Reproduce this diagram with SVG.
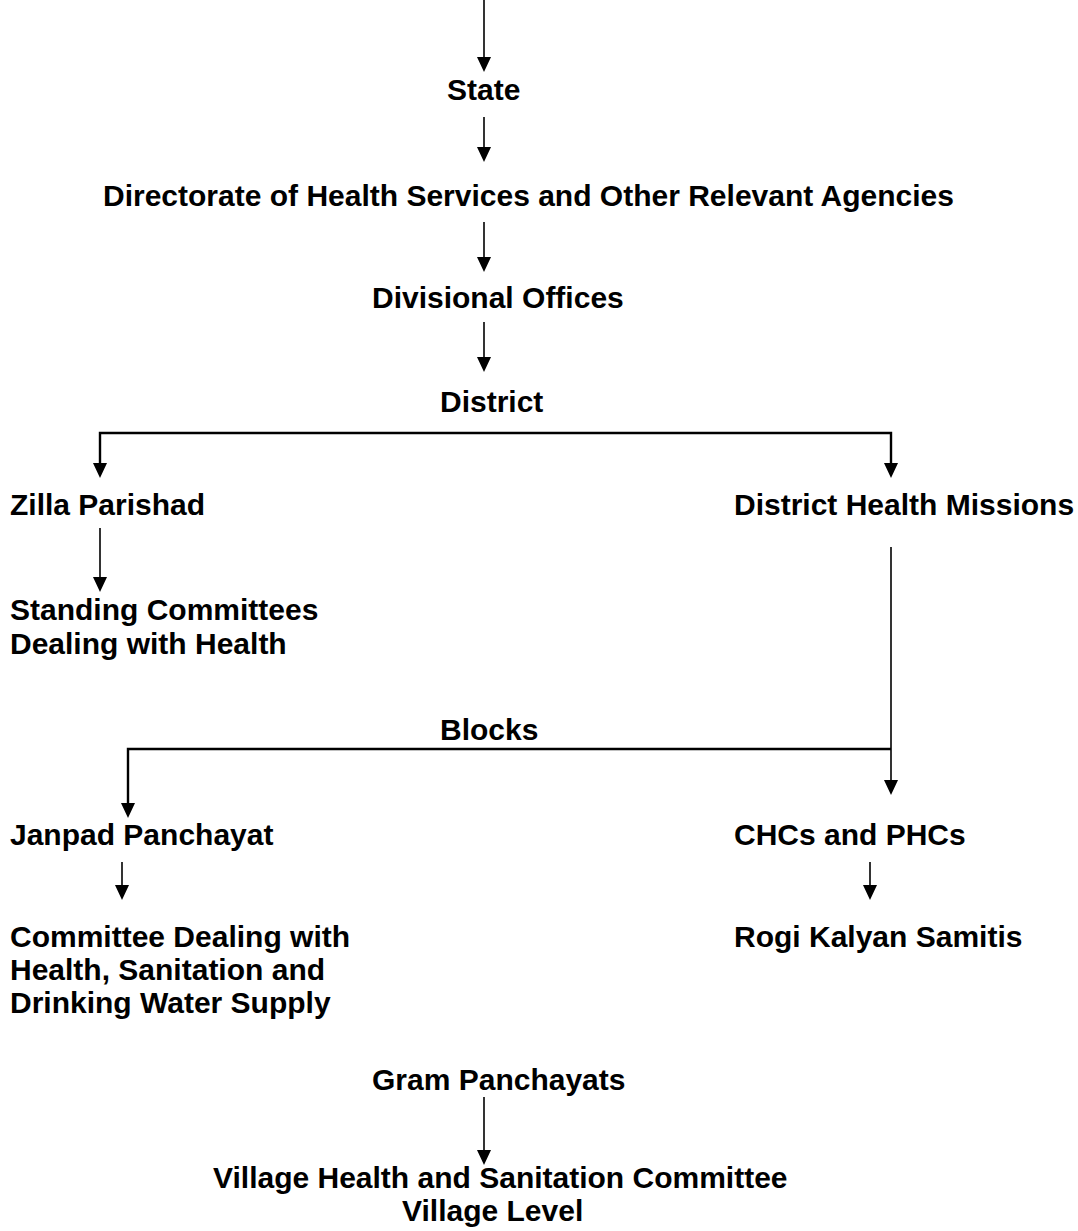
<svg xmlns="http://www.w3.org/2000/svg" width="1078" height="1231" viewBox="0 0 1078 1231">
<style>
text{font-family:"Liberation Sans",Arial,sans-serif;font-weight:bold;font-size:30px;fill:#000}
.c{stroke:#000;stroke-width:1.6;fill:none}
.h{stroke:#000;stroke-width:2.4;fill:none}
polygon{fill:#000}
</style>
<rect width="1078" height="1231" fill="#fff"/>
<g id="connectors">
<path class="c" d="M484,0 V57" />
<polygon points="477,57 491,57 484,72" />
<path class="c" d="M484,117 V147" />
<polygon points="477,147 491,147 484,162" />
<path class="c" d="M484,222 V257" />
<polygon points="477,257 491,257 484,272" />
<path class="c" d="M484,322 V357" />
<polygon points="477,357 491,357 484,372" />
<path class="h" d="M100,463 V433 H891 V463" />
<polygon points="93,463 107,463 100,478" />
<polygon points="884,463 898,463 891,478" />
<path class="c" d="M100,528 V577" />
<polygon points="93,577 107,577 100,592" />
<path class="c" d="M891,547 V780" />
<polygon points="884,780 898,780 891,795" />
<path class="h" d="M891,749 H128 V803" />
<polygon points="121,803 135,803 128,818" />
<path class="c" d="M122,862 V885" />
<polygon points="115,885 129,885 122,900" />
<path class="c" d="M870,862 V885" />
<polygon points="863,885 877,885 870,900" />
<path class="c" d="M484,1097 V1150" />
<polygon points="477,1150 491,1150 484,1165" />
</g>
<g id="state"><text x="447" y="100">State</text></g>
<g id="directorate"><text x="103" y="206">Directorate of Health Services and Other Relevant Agencies</text></g>
<g id="divisional"><text x="372" y="308">Divisional Offices</text></g>
<g id="district"><text x="440" y="412">District</text></g>
<g id="zilla"><text x="10" y="515">Zilla Parishad</text></g>
<g id="dhm"><text x="734" y="515">District Health Missions</text></g>
<g id="standing"><text x="10" y="620">Standing Committees</text><text x="10" y="654">Dealing with Health</text></g>
<g id="blocks"><text x="440" y="740">Blocks</text></g>
<g id="janpad"><text x="10" y="845">Janpad Panchayat</text></g>
<g id="chc"><text x="734" y="845">CHCs and PHCs</text></g>
<g id="committee"><text x="10" y="947">Committee Dealing with</text><text x="10" y="980">Health, Sanitation and</text><text x="10" y="1013">Drinking Water Supply</text></g>
<g id="rogi"><text x="734" y="947">Rogi Kalyan Samitis</text></g>
<g id="gram"><text x="372" y="1090">Gram Panchayats</text></g>
<g id="village"><text x="213" y="1188">Village Health and Sanitation Committee</text><text x="402" y="1221">Village Level</text></g>
</svg>
